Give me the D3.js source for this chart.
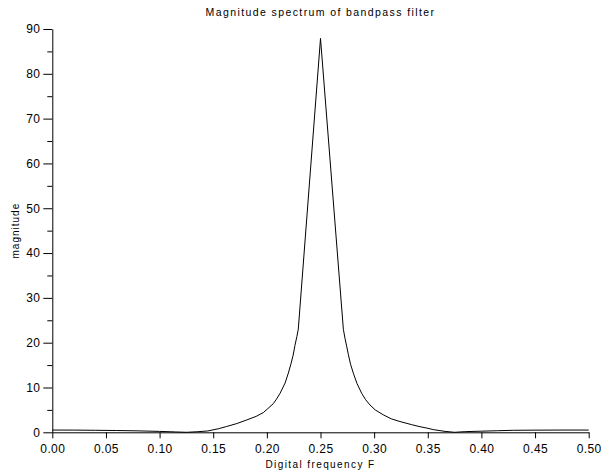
<!DOCTYPE html>
<html>
<head>
<meta charset="utf-8">
<script src="https://cdn.jsdelivr.net/npm/d3@7"></script>
<style>
  html, body { margin: 0; padding: 0; background: #fff; }
  svg { display: block; font-family: "Liberation Sans", Arial, sans-serif; }
</style>
</head>
<body>
<script>
// Data
const freq = [0.000, 0.020, 0.040, 0.060, 0.080, 0.100, 0.115, 0.125, 0.135, 0.145,
              0.155, 0.1626, 0.172, 0.1812, 0.190, 0.1967, 0.201, 0.206, 0.209, 0.2123,
              0.217, 0.220, 0.2225, 0.2245, 0.2262, 0.228, 0.2293,
              0.2500,
              0.2713, 0.2728, 0.2744, 0.2760, 0.2780, 0.2806, 0.2840,
              0.2884, 0.2920, 0.2961, 0.3010, 0.3085, 0.3160, 0.3241, 0.3350, 0.3427,
              0.3500, 0.3551, 0.3661, 0.3750, 0.3850, 0.4000, 0.4150, 0.4300, 0.4500, 0.4750, 0.5000];
const magnitude = [0.50, 0.49, 0.45, 0.40, 0.32, 0.20, 0.08, 0.00, 0.12, 0.30,
                   0.80, 1.30, 1.95, 2.75, 3.55, 4.40, 5.30, 6.40, 7.40, 8.70,
                   11.0, 13.2, 15.3, 17.2, 19.4, 21.4, 23.0,
                   87.9,
                   23.0, 21.0, 19.2, 17.3, 15.2, 13.2, 10.9,
                   8.7, 7.3, 6.1, 5.0, 3.9, 3.0, 2.4, 1.70, 1.25,
                   0.90, 0.60, 0.20, 0.00, 0.15, 0.25, 0.35, 0.45, 0.48, 0.50, 0.50];
const xTicks = [0, 0.05, 0.10, 0.15, 0.20, 0.25, 0.30, 0.35, 0.40, 0.45, 0.50];
const yTicks = [0, 10, 20, 30, 40, 50, 60, 70, 80, 90];
const yMinorTicks = [5, 15, 25, 35, 45, 55, 65, 75, 85];
const titleText = "Magnitude spectrum of bandpass filter";
const xLabelText = "Digital frequency F";
const yLabelText = "magnitude";

const W = 601, H = 476;
const x = d3.scaleLinear().domain([0, 0.5]).range([52.3, 588.7]);
const y = d3.scaleLinear().domain([0, 90]).range([432.3, 29]);

const svg = d3.select("body").append("svg").attr("width", W).attr("height", H);

// curve
const pts = freq.map((f, i) => [f, magnitude[i]]);
svg.append("path")
  .datum(pts)
  .attr("fill", "none")
  .attr("stroke", "#000")
  .attr("stroke-width", 1)
  .attr("d", d3.line().x(d => x(d[0])).y(d => y(d[1])));

// x axis
const xAxis = d3.axisBottom(x).tickValues(xTicks).tickFormat(d3.format(".2f")).tickSizeInner(6).tickSizeOuter(0).tickPadding(6);
const gx = svg.append("g").attr("transform", `translate(0,${y(0)})`).call(xAxis);
gx.selectAll("text").attr("font-size", "12px").attr("fill", "#000").style("letter-spacing", "0.4px");
gx.selectAll("line, path").attr("stroke", "#000");

// y axis
const yAxis = d3.axisLeft(y).tickValues(yTicks).tickFormat(d3.format("d")).tickSizeInner(9).tickSizeOuter(0).tickPadding(3);
const gy = svg.append("g").attr("transform", `translate(${x(0)},0)`).call(yAxis);
gy.selectAll("text").attr("font-size", "12px").attr("fill", "#000").style("letter-spacing", "0.4px");
gy.selectAll("line, path").attr("stroke", "#000");
// y minor ticks
const yMinor = d3.axisLeft(y).tickValues(yMinorTicks).tickFormat("").tickSizeInner(5).tickSizeOuter(0);
const gym = svg.append("g").attr("transform", `translate(${x(0)},0)`).call(yMinor);
gym.select(".domain").remove();
gym.selectAll("line").attr("stroke", "#000");

// title
svg.append("text")
  .attr("x", 320.5).attr("y", 16)
  .attr("text-anchor", "middle")
  .attr("font-size", "10.5px")
  .style("letter-spacing", "1.4px")
  .attr("fill", "#000")
  .text(titleText);

// x label
svg.append("text")
  .attr("x", 320.5).attr("y", 468)
  .attr("text-anchor", "middle")
  .attr("font-size", "10px")
  .style("letter-spacing", "1.4px")
  .attr("fill", "#000")
  .text(xLabelText);

// y label
svg.append("text")
  .attr("transform", `translate(19,${(y(0) + y(90)) / 2}) rotate(-90)`)
  .attr("text-anchor", "middle")
  .attr("font-size", "10px")
  .style("letter-spacing", "1px")
  .attr("fill", "#000")
  .text(yLabelText);
</script>
</body>
</html>
